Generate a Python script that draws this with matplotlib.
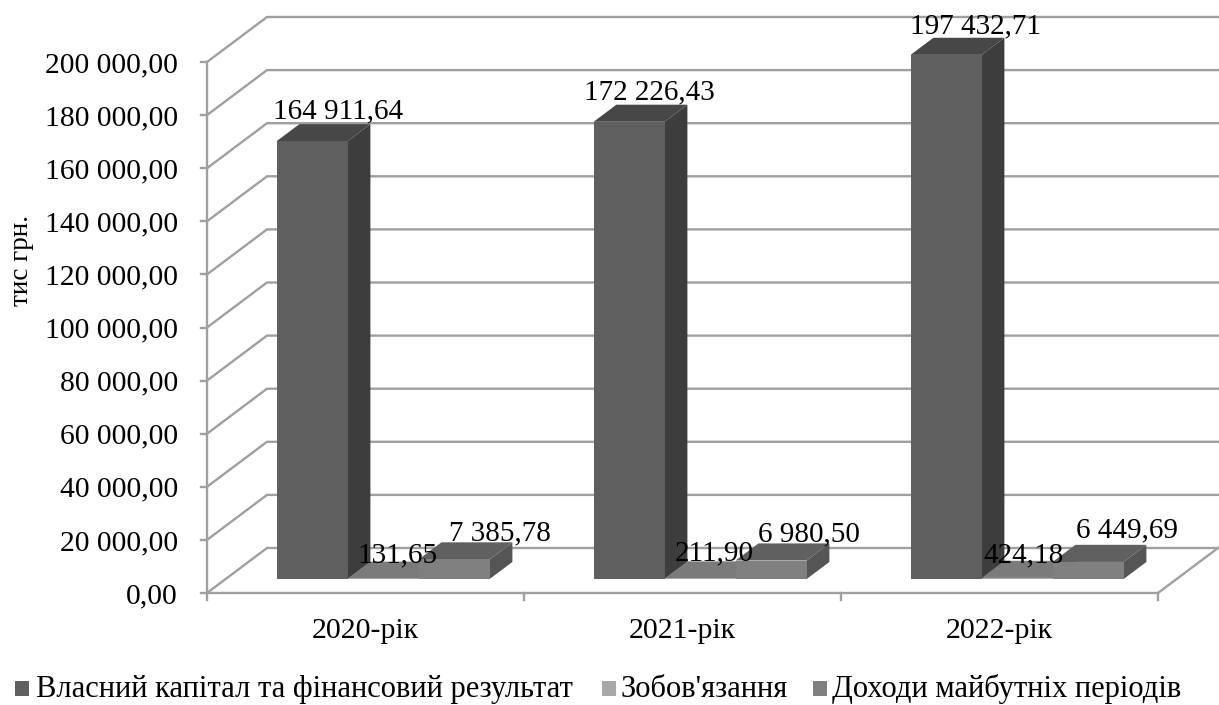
import matplotlib
matplotlib.use("Agg")
import matplotlib.pyplot as plt
from matplotlib.patches import Polygon, Rectangle

plt.rcParams['font.family'] = ['Liberation Serif', 'DejaVu Serif']

# chart data
years = ["2020-рік", "2021-рік", "2022-рік"]
series_names = ["Власний капітал та фінансовий результат", "Зобов'язання", "Доходи майбутніх періодів"]
equity = [164911.64, 172226.43, 197432.71]
liabilities = [131.65, 211.90, 424.18]
deferred = [7385.78, 6980.50, 6449.69]
value_labels = [
    ["164 911,64", "172 226,43", "197 432,71"],
    ["131,65", "211,90", "424,18"],
    ["7 385,78", "6 980,50", "6 449,69"],
]
y_ticks = list(range(0, 200001, 20000))
y_tick_labels = ["0,00", "20 000,00", "40 000,00", "60 000,00", "80 000,00", "100 000,00",
                 "120 000,00", "140 000,00", "160 000,00", "180 000,00", "200 000,00"]

W, H = 1219, 705
fig = plt.figure(figsize=(W / 100, H / 100), dpi=100)
# front plane of the fake 3d box, in pixels: x 207..1158, y 593..62
ax = fig.add_axes([207 / W, 1 - 593 / H, 951 / W, 531 / H])
ax.set_xlim(0, 3)
ax.set_ylim(0, 200000)
ax.axis("off")

px_x = 1 / 317
px_y = 200000 / 531
# depth 0 = front plane, 1 = back wall
depth_dx = 60 * px_x
depth_dy = 45 * px_y


def proj(x, y, d):
    return x + d * depth_dx, y + d * depth_dy


def line(pts, **kw):
    xs, ys = zip(*pts)
    ax.plot(xs, ys, color="#a0a0a0", lw=1.7, clip_on=False, zorder=1, **kw)


for v, lab in zip(y_ticks, y_tick_labels):
    line([proj(0, v, 0), proj(0, v, 1), proj(3, v, 1)], solid_joinstyle="miter")
    line([(0, v), (-6 * px_x, v)])
    ax.text(-29 * px_x, v - 10 * px_y, lab, ha="right", va="baseline", fontsize=21.3)
# floor front edge, right edge, y axis
line([proj(0, 0, 0), proj(3, 0, 0), proj(3, 0, 1)])
line([(0, 0), (0, 200000)])

for c in range(4):
    line([(c, 0), (c, -7 * px_y)])
for c, name in enumerate(years):
    ax.text(c + 0.5, -45 * px_y, name, ha="center", va="baseline", fontsize=21.5)


def bar3d(x0, x1, h, front, side, top, z):
    d0, d1 = 0.31, 0.69
    f = [proj(x0, 0, d0), proj(x1, 0, d0), proj(x1, h, d0), proj(x0, h, d0)]
    s = [proj(x1, 0, d0), proj(x1, 0, d1), proj(x1, h, d1), proj(x1, h, d0)]
    t = [proj(x0, h, d0), proj(x1, h, d0), proj(x1, h, d1), proj(x0, h, d1)]
    ax.add_patch(Polygon(s, fc=side, ec="none", clip_on=False, zorder=z))
    ax.add_patch(Polygon(t, fc=top, ec="none", clip_on=False, zorder=z))
    ax.add_patch(Polygon(f, fc=front, ec="none", clip_on=False, zorder=z))


bar_w = 71 * px_x
start = 51 * px_x
styles = [("#5f5f5f", "#3d3d3d", "#474747"), ("#a8a8a8", "#6a6a6a", "#7b7b7b"), ("#808080", "#555555", "#606060")]
for c in range(3):
    vals = [equity[c], liabilities[c], deferred[c]]
    for s in range(3):
        x0 = c + start + s * bar_w
        bar3d(x0, x0 + bar_w, vals[s], *styles[s], z=3 + c + s * 0.1)

# label anchors in pixels (center x, baseline y)
lab_x = [[338, 649, 975], [397, 714, 1024], [500, 809, 1127]]
lab_y = [[118, 99, 33], [562, 560, 562], [540, 541, 537]]
for s in range(3):
    for c in range(3):
        ax.text((lab_x[s][c] - 207) * px_x, (593 - lab_y[s][c]) * px_y, value_labels[s][c],
                ha="center", va="baseline", fontsize=21, zorder=10, clip_on=False)

fig.text(22 / W, 1 - 260 / H, "тис грн.", rotation=90, ha="center", va="center", fontsize=19.5)

# legend drawn by hand to match spacing
leg_y = 1 - 697 / H
for px, tx, col, name in zip([15, 602, 813], [36, 620, 832], [st[0] for st in styles], series_names):
    fig.add_artist(Rectangle((px / W, leg_y + 1 / H), 14 / W, 15 / H, fc=col, ec="none", transform=fig.transFigure))
    fig.text(tx / W, leg_y, name, ha="left", va="baseline", fontsize=22)

fig.savefig("out.png", dpi=100)
